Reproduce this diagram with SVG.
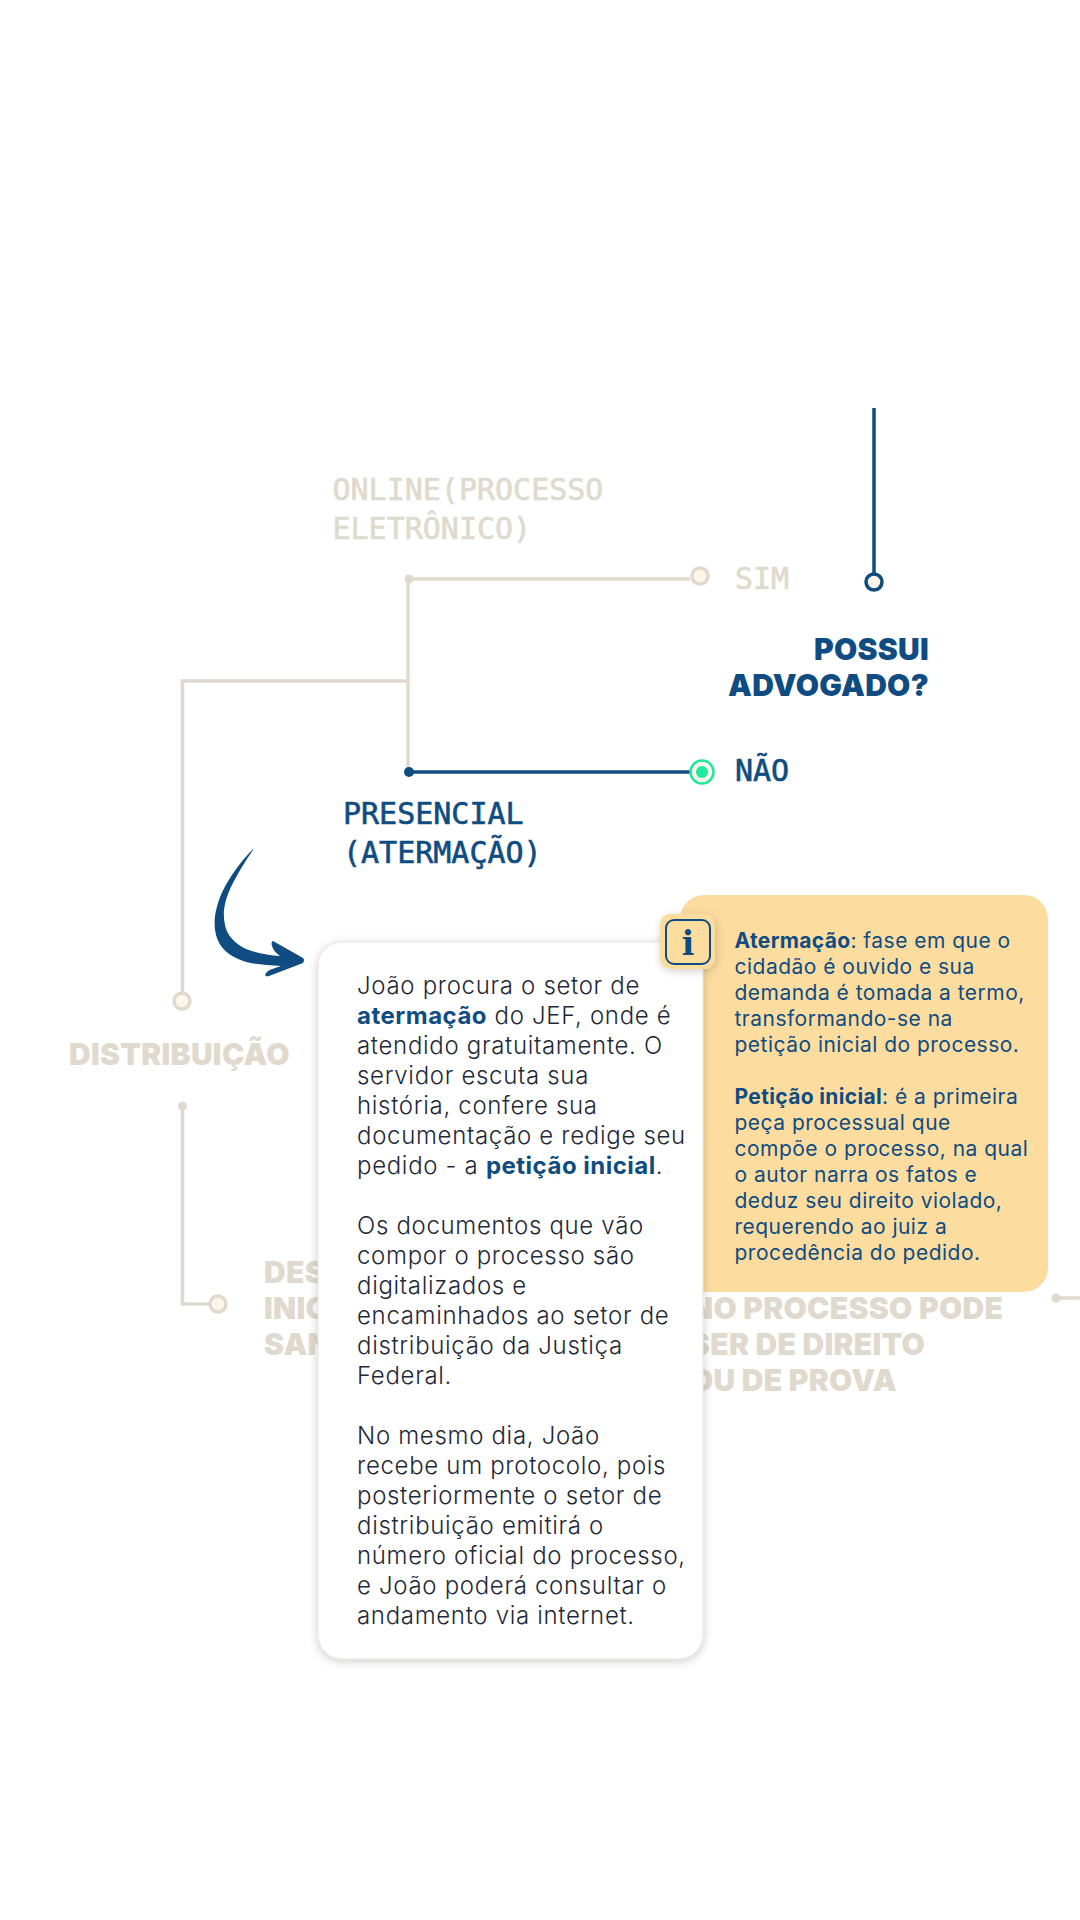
<svg xmlns="http://www.w3.org/2000/svg" width="1080" height="1920" viewBox="0 0 1080 1920">
<defs>
<filter id="sh" x="-20%" y="-20%" width="140%" height="140%"><feDropShadow dx="0" dy="2" stdDeviation="5" flood-color="#000" flood-opacity="0.2"/></filter>
<filter id="sh2" x="-30%" y="-30%" width="160%" height="160%"><feDropShadow dx="1" dy="2" stdDeviation="4" flood-color="#000" flood-opacity="0.18"/></filter>
</defs>
<style>
.t{fill:none;stroke:#e0d9cd;stroke-width:3.5}
.b{fill:none;stroke:#0f4c81;stroke-width:3.5}
.hd{font-family:Inter,"Liberation Sans",sans-serif;font-weight:900;font-size:30px;letter-spacing:.3px}
.mono{font-family:"DejaVu Sans Mono","Liberation Mono",monospace;font-size:30px;stroke-width:.6px}
.tan{fill:#e0d9cd}.blue{fill:#0f4c81}
.mono.tan{stroke:#e0d9cd}.mono.blue{stroke:#0f4c81}
.card{font-family:Inter,"Liberation Sans",sans-serif;font-size:24px;font-weight:300;letter-spacing:.68px;fill:#1f2937}
.card .em{font-weight:700;letter-spacing:.5px;fill:#0f4c81}
.note{font-family:Inter,"Liberation Sans",sans-serif;font-size:21px;letter-spacing:.48px;fill:#0f4c81}
.note .em{font-weight:700;letter-spacing:.35px}
</style>
<rect width="1080" height="1920" fill="#fff"/>
<g id="connectors">
<path class="b" d="M874 408V582"/>
<path class="t" d="M409 579H690"/>
<path class="t" d="M408 579V772"/>
<path class="t" d="M408 681H182.500V1000"/>
<path class="b" d="M409 772H695"/>
<path class="t" d="M182.500 1106V1304H215"/>
<path class="t" d="M1056 1298H1080"/>
<circle class="tan" cx="409" cy="579" r="4.500"/>
<circle class="blue" cx="409" cy="772" r="5"/>
<circle class="tan" cx="182.500" cy="1106" r="4.500"/>
<circle class="tan" cx="1056" cy="1298" r="4.500"/>
</g>
<g id="node-top"><circle cx="874" cy="582" r="8" fill="#fdf5e6" stroke="#0f4c81" stroke-width="3.500"/></g>
<g id="node-sim"><circle cx="700" cy="576" r="8" fill="#fdf5e6" stroke="#e0d9cd" stroke-width="3.500"/><text class="mono tan" x="735" y="589">SIM</text></g>
<g id="node-nao"><circle cx="702" cy="772" r="11.500" fill="#fdf5e6" stroke="#1de9a0" stroke-width="2.500"/><circle cx="702" cy="772" r="6" fill="#1de9a0"/><text class="mono blue" x="735" y="781">NÃO</text></g>
<g id="node-possui"><text class="hd blue" text-anchor="end" x="929" y="660">POSSUI</text><text class="hd blue" text-anchor="end" x="929" y="696">ADVOGADO?</text></g>
<g id="node-online"><text class="mono tan" x="332.500" y="500">ONLINE(PROCESSO</text><text class="mono tan" x="332.500" y="539">ELETRÔNICO)</text></g>
<g id="node-presencial"><text class="mono blue" x="343" y="824">PRESENCIAL</text><text class="mono blue" x="343" y="863">(ATERMAÇÃO)</text></g>
<g id="node-distribuicao"><circle cx="182" cy="1001" r="8" fill="#fdf5e6" stroke="#e0d9cd" stroke-width="3.500"/><text class="hd tan" x="69" y="1065">DISTRIBUIÇÃO</text></g>
<g id="node-despacho"><circle cx="218" cy="1304" r="8" fill="#fdf5e6" stroke="#e0d9cd" stroke-width="3.500"/><text class="hd tan" x="264" y="1283">DES</text><text class="hd tan" x="264" y="1319">INIC</text><text class="hd tan" x="264" y="1355">SAN</text></g>
<g id="node-processo"><text class="hd tan" x="690" y="1319">NO PROCESSO PODE</text><text class="hd tan" x="690" y="1355">SER DE DIREITO</text><text class="hd tan" x="690" y="1391">OU DE PROVA</text></g>
<g id="arrow"><path class="blue" d="M253 849C238 864 224 885 219 900C215 912 214 920 215 930C217 945 226 953 236 958C248 964 262 965 281 966C276 968 270 969 267 972C264 975 265 977 269 976L303 963Q305 960 303 958L273 941C272 941 271 943 272 946C273 950 276 953 280 956C268 955 256 953 246 949C234 943 227 935 225 925C222 912 225 900 231 887C238 873 246 860 253 850Z"/></g>
<g id="note-panel"><rect x="680" y="895" width="368" height="397" rx="24" fill="#fddca0"/></g>
<g id="card"><rect x="318" y="942" width="385" height="717" rx="24" fill="#fff" stroke="#e8e3d8" stroke-width="1" filter="url(#sh)"/>
<text class="card">
<tspan x="357" y="994">João procura o setor de</tspan>
<tspan x="357" y="1024" class="em">atermação</tspan><tspan> do JEF, onde é</tspan>
<tspan x="357" y="1054">atendido gratuitamente. O</tspan>
<tspan x="357" y="1084">servidor escuta sua</tspan>
<tspan x="357" y="1114">história, confere sua</tspan>
<tspan x="357" y="1144">documentação e redige seu</tspan>
<tspan x="357" y="1174">pedido - a </tspan><tspan class="em">petição inicial</tspan><tspan>.</tspan>
<tspan x="357" y="1234">Os documentos que vão</tspan>
<tspan x="357" y="1264">compor o processo são</tspan>
<tspan x="357" y="1294">digitalizados e</tspan>
<tspan x="357" y="1324">encaminhados ao setor de</tspan>
<tspan x="357" y="1354">distribuição da Justiça</tspan>
<tspan x="357" y="1384">Federal.</tspan>
<tspan x="357" y="1444">No mesmo dia, João</tspan>
<tspan x="357" y="1474">recebe um protocolo, pois</tspan>
<tspan x="357" y="1504">posteriormente o setor de</tspan>
<tspan x="357" y="1534">distribuição emitirá o</tspan>
<tspan x="357" y="1564">número oficial do processo,</tspan>
<tspan x="357" y="1594">e João poderá consultar o</tspan>
<tspan x="357" y="1624">andamento via internet.</tspan>
</text></g>
<g id="note">
<text class="note">
<tspan x="734.500" y="948" class="em">Atermação</tspan><tspan>: fase em que o</tspan>
<tspan x="734.500" y="974">cidadão é ouvido e sua</tspan>
<tspan x="734.500" y="1000">demanda é tomada a termo,</tspan>
<tspan x="734.500" y="1026">transformando-se na</tspan>
<tspan x="734.500" y="1052">petição inicial do processo.</tspan>
<tspan x="734.500" y="1104" class="em">Petição inicial</tspan><tspan>: é a primeira</tspan>
<tspan x="734.500" y="1130">peça processual que</tspan>
<tspan x="734.500" y="1156">compõe o processo, na qual</tspan>
<tspan x="734.500" y="1182">o autor narra os fatos e</tspan>
<tspan x="734.500" y="1208">deduz seu direito violado,</tspan>
<tspan x="734.500" y="1234">requerendo ao juiz a</tspan>
<tspan x="734.500" y="1260">procedência do pedido.</tspan>
</text></g>
<g id="info"><rect x="660" y="914" width="55" height="55" rx="10" fill="#fddca0" filter="url(#sh2)"/><rect x="666" y="920" width="44" height="44" rx="8" fill="none" stroke="#0f4c81" stroke-width="2"/><text x="688" y="955" text-anchor="middle" font-family="'DejaVu Serif',serif" font-weight="700" font-size="33" class="blue">i</text></g>
</svg>
